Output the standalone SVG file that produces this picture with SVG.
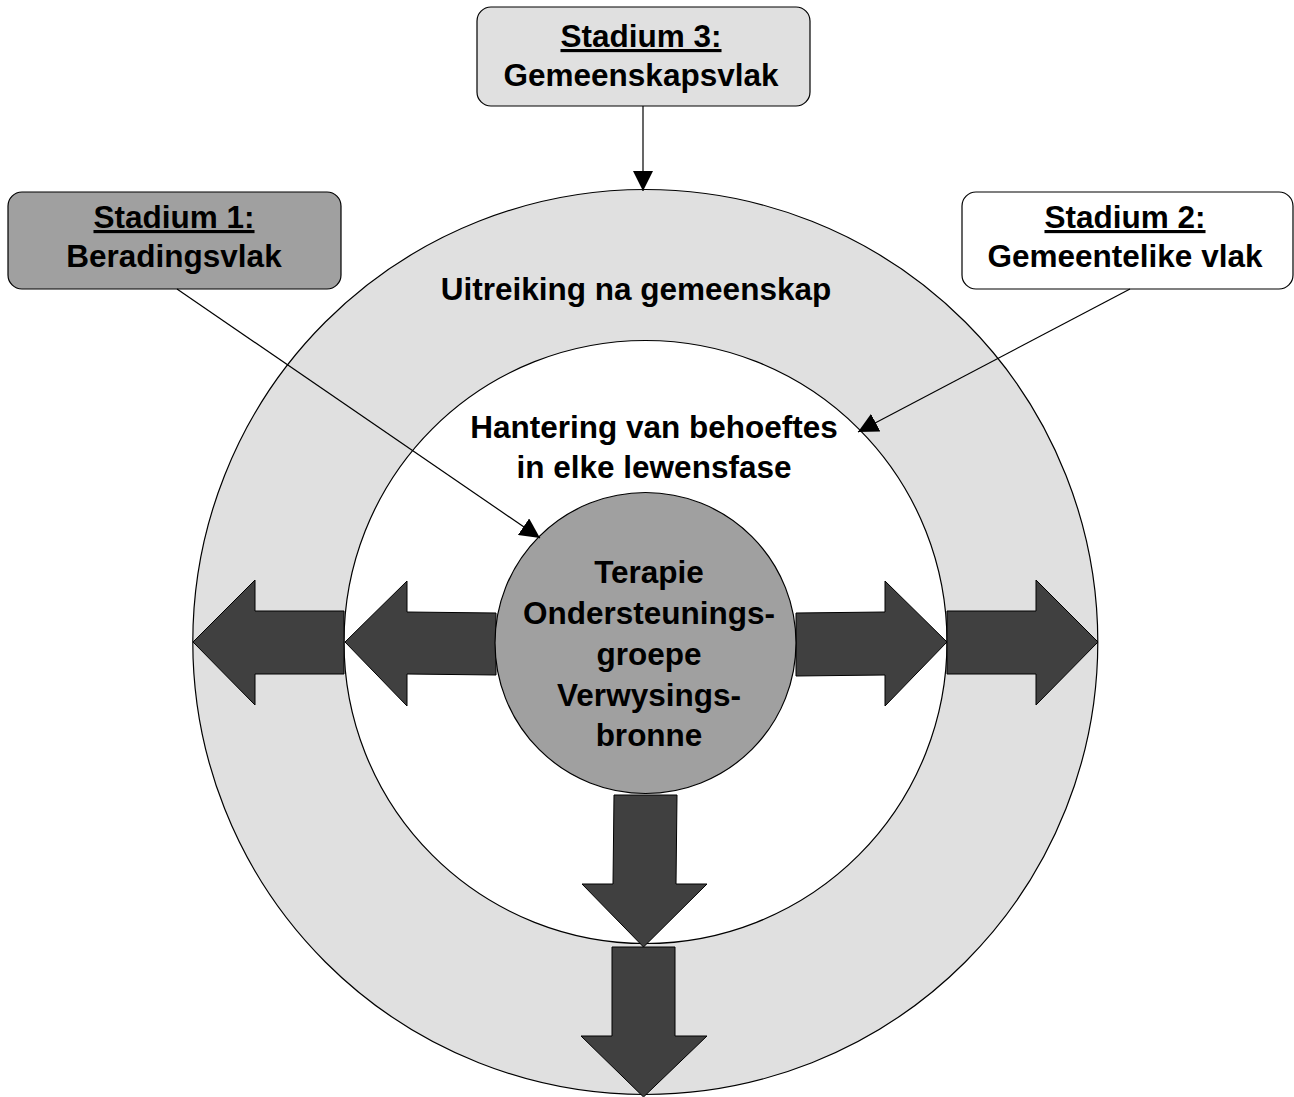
<svg xmlns="http://www.w3.org/2000/svg" width="1294" height="1097" viewBox="0 0 1294 1097">
<style>
text{font-family:"Liberation Sans",Arial,sans-serif;font-weight:bold;font-size:31.5px;fill:#000;text-anchor:middle}
.u{text-decoration:underline}
.box{stroke:#000;stroke-width:1.2}
.ring{stroke:#000;stroke-width:1.2}
.big{fill:#404040;stroke:#000;stroke-width:1}
.con{stroke:#000;stroke-width:1.2;fill:none}
</style>
<defs>
<marker id="ah" viewBox="0 0 10 10" refX="10" refY="5" markerWidth="20" markerHeight="20" markerUnits="userSpaceOnUse" orient="auto">
<path d="M0,0 L10,5 L0,10 Z" fill="#000"/>
</marker>
</defs>
<rect width="1294" height="1097" fill="#fff"/>
<g id="outer-ring">
<circle cx="645.3" cy="642" r="452.5" fill="#e0e0e0" class="ring"/>
<text x="636" y="300">Uitreiking na gemeenskap</text>
</g>
<g id="inner-ring">
<circle cx="645.5" cy="642" r="301.5" fill="#fff" class="ring"/>
<text x="654" y="438">Hantering van behoeftes</text>
<text x="654" y="478">in elke lewensfase</text>
</g>
<g id="arrows">
<path class="big" d="M193,642 L255,580 L255,611 L344,611 L344,674 L255,674 L255,705 Z"/>
<path class="big" d="M345,642 L407,581 L407,612 L496,613 L496,675 L407,674 L407,706 Z"/>
<path class="big" d="M947,642 L885,581 L885,612 L796,613 L796,676 L885,675 L885,706 Z"/>
<path class="big" d="M1098,642 L1036,580 L1036,611 L947,611 L947,674 L1036,674 L1036,705 Z"/>
<path class="big" d="M643.5,947 L582,884 L613,884 L614,795 L677,795 L676,884 L707,884 Z"/>
<path class="big" d="M643.5,1097 L581,1036 L612,1036 L612,947 L675,947 L675,1036 L707,1036 Z"/>
</g>
<g id="center">
<circle cx="645.5" cy="643" r="150.5" fill="#a0a0a0" class="ring"/>
<text x="649" y="583">Terapie</text>
<text x="649" y="624">Ondersteunings-</text>
<text x="649" y="665">groepe</text>
<text x="649" y="706">Verwysings-</text>
<text x="649" y="746">bronne</text>
</g>
<g id="stadium3">
<rect x="477" y="7" width="333" height="99" rx="14" fill="#e0e0e0" class="box"/>
<text x="641" y="47"><tspan class="u">Stadium 3:</tspan></text>
<text x="641" y="86">Gemeenskapsvlak</text>
</g>
<g id="stadium1">
<rect x="8" y="192" width="333" height="97" rx="14" fill="#a0a0a0" class="box"/>
<text x="174" y="228"><tspan class="u">Stadium 1:</tspan></text>
<text x="174" y="267">Beradingsvlak</text>
</g>
<g id="stadium2">
<rect x="962" y="192" width="331" height="97" rx="14" fill="#fff" class="box"/>
<text x="1125" y="228"><tspan class="u">Stadium 2:</tspan></text>
<text x="1125" y="267">Gemeentelike vlak</text>
</g>
<g id="connectors">
<line class="con" x1="643" y1="106" x2="643" y2="191" marker-end="url(#ah)"/>
<line class="con" x1="177" y1="289" x2="540" y2="538" marker-end="url(#ah)"/>
<line class="con" x1="1130" y1="289" x2="858" y2="432" marker-end="url(#ah)"/>
</g>
</svg>
